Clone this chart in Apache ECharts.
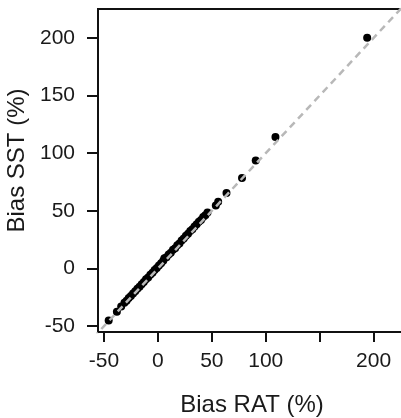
<!DOCTYPE html>
<html>
<head>
<meta charset="utf-8">
<script src="https://cdn.jsdelivr.net/npm/echarts@6/dist/echarts.min.js"></script>
<style>
html,body{margin:0;padding:0;background:#fff;}
#chart{width:401px;height:418px;}
</style>
</head>
<body>
<div id="chart"></div>
<script>
// Data
var biasRAT = [-45.6, -38, -34, -31, -29, -27, -25, -23, -21, -19, -17, -15, -13, -11, -9, -7, -5, -3, -1, 1, 3, 5, 6, 8, 10, 12, 14, 16, 18, 20, 22, 24, 26, 28, 30, 32, 34, 36, 38, 40, 42, 44, 46, 53.7, 55.9, 63.6, 78, 90.7, 109, 194];
var biasSST = [-45.1, -37.5, -32.8, -29.6, -27.9, -25.5, -23.8, -21.6, -19.7, -17.4, -15.8, -13.5, -11.6, -9.3, -7.7, -5.4, -3.6, -1.2, 0.4, 2.7, 4.6, 6.8, 8.9, 9.7, 12.1, 13.8, 16.2, 17.7, 20.3, 21.8, 24.4, 26.1, 28.5, 30.2, 32.6, 34.1, 36.4, 38.3, 40.5, 42.1, 44.6, 46.2, 48.5, 54.7, 58, 65.4, 78.5, 93.7, 114, 200];
var xTicks = [-50, 0, 50, 100, 150, 200];
var xTickLabels = [-50, 0, 50, 100, 200];
var yTicks = [-50, 0, 50, 100, 150, 200];
var identityLine = [-60, 240];

var points = biasRAT.map(function (v, i) { return [v, biasSST[i]]; });
var linePts = identityLine.map(function (v) { return [v, v]; });

var font = 'Liberation Sans, Arial, Helvetica, sans-serif';
var chart = echarts.init(document.getElementById('chart'), null, {renderer: 'canvas'});
chart.setOption({
  animation: false,
  backgroundColor: '#fff',
  grid: {
    left: 98, top: 9, width: 308, height: 323,
    containLabel: false, outerBoundsMode: 'none',
    show: true, borderColor: '#111', borderWidth: 2, backgroundColor: 'transparent'
  },
  xAxis: {
    type: 'value', min: -55.5, max: 230,
    axisLine: {show: false, onZero: false},
    splitLine: {show: false},
    axisTick: {show: true, customValues: xTicks, length: 10, lineStyle: {color: '#111', width: 2}},
    axisLabel: {customValues: xTickLabels, color: '#1a1a1a', fontSize: 21, fontFamily: font, margin: 19},
    name: 'Bias RAT (%)', nameLocation: 'middle', nameGap: 61,
    nameTextStyle: {color: '#1a1a1a', fontSize: 24, fontFamily: font}
  },
  yAxis: {
    type: 'value', min: -55, max: 225,
    axisLine: {show: false, onZero: false},
    splitLine: {show: false},
    axisTick: {show: true, customValues: yTicks, length: 11, lineStyle: {color: '#111', width: 2}},
    axisLabel: {customValues: yTicks, color: '#1a1a1a', fontSize: 21, fontFamily: font, margin: 23},
    name: 'Bias SST (%)', nameLocation: 'middle', nameGap: 63,
    nameTextStyle: {color: '#1a1a1a', fontSize: 24, fontFamily: font, padding: [0, 0, 0, 20]}
  },
  series: [
    {
      type: 'scatter', data: points, symbol: 'circle', symbolSize: 8,
      itemStyle: {color: '#000', opacity: 1}, z: 2
    },
    {
      type: 'line', data: linePts, symbol: 'none', z: 3, silent: true,
      lineStyle: {color: '#b8b8b8', width: 2.5, type: [7, 5]}
    }
  ]
});
</script>
</body>
</html>
